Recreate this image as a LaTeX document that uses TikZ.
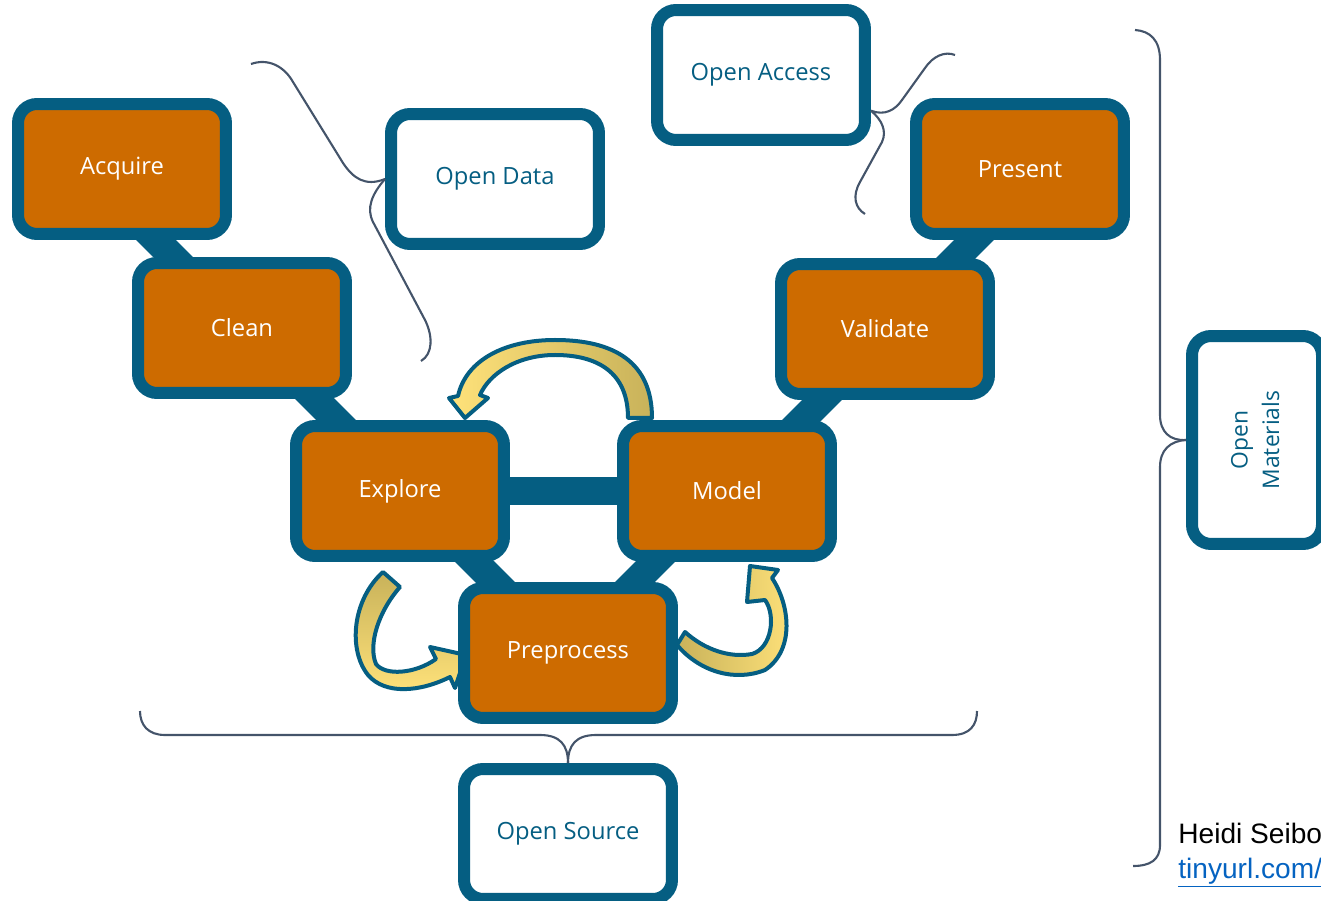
\documentclass[tikz,border=0pt]{standalone}
\usepackage{fontspec}
\setmainfont{Open Sans}
\newfontfamily\arialfont{Liberation Sans}
\usetikzlibrary{positioning,calc}
\definecolor{cycleblue}{RGB}{5,94,130}
\definecolor{cycleorange}{RGB}{205,107,0}
\definecolor{bracegray}{RGB}{68,84,106}
\definecolor{golddark}{RGB}{200,178,90}
\definecolor{goldlight}{RGB}{255,226,122}
\definecolor{urlblue}{RGB}{5,99,193}
\pgfdeclarelayer{back}
\pgfsetlayers{back,main}

\begin{document}
\begin{tikzpicture}[x=0.02cm, y=-0.02cm,
    stage/.style={draw=cycleblue, line width=0.24cm, rounded corners=0.38cm,
                  fill=cycleorange, text=white, minimum width=4.16cm, minimum height=2.6cm,
                  font=\fontsize{13.5}{16}\selectfont},
    open/.style={stage, fill=white, text=cycleblue},
    link/.style={cycleblue, line width=0.56cm},
    brace/.style={bracegray, line width=1.2pt},
    turn/.style={draw=cycleblue, line width=0.08cm, line join=round}]
      \useasboundingbox (0,0) rectangle (1321,901);
      % the cycle
      \node[stage] (acquire)    at (122,169)  {Acquire};
      \node[stage] (clean)      at (242,328)  {Clean};
      \node[stage] (explore)    at (400,491)  {Explore};
      \node[stage] (preprocess) at (568,653)  {Preprocess};
      \node[stage] (model)      at (727,491)  {Model};
      \node[stage] (validate)   at (885,329)  {Validate};
      \node[stage] (present)    at (1020,169) {Present};
      % the open boxes
      \node[open] (opendata)   at (495,179) {Open Data};
      \node[open] (openaccess) at (761,75)  {Open Access};
      \node[open] (opensource) at (568,834) {Open Source};
      \node[open, minimum width=2.6cm, minimum height=4.16cm,
            font=\fontsize{13}{18}\selectfont] (openmat) at (1257,440)
            {\rotatebox{90}{\begin{tabular}{@{}c@{}}Open\\Materials\end{tabular}}};
      \begin{pgfonlayer}{back}
      \draw[link] ($(acquire)+(13,50)$)    -- ($(clean)+(-47,-49)$);
      \draw[link] ($(clean)+(53,51)$)      -- ($(explore)+(-45,-52)$);
      \draw[link] ($(explore)+(55,51)$)    -- ($(preprocess)+(-53,-51)$);
      \draw[link] ($(model)+(-52,51)$)     -- ($(preprocess)+(47,-51)$);
      \draw[link] ($(model)+(55,-51)$)     -- ($(validate)+(-43,51)$);
      \draw[link] ($(validate)+(50,-50)$)  -- ($(present)+(-25,50)$);
      \draw[link] (explore) -- (model);
      % loop arrows
      \draw[turn, left color=goldlight, right color=golddark]
            (652,418) -- (628,418) .. controls (628,372) and (597,355) .. (555,355)
            .. controls (517,355) and (489,374) .. (480,395) -- (488,398) -- (465,418)
            -- (449,398) -- (458,396) .. controls (466,360) and (505,340) .. (555,340)
            .. controls (614,340) and (652,362) .. (652,418) -- cycle;
      \draw[turn, top color=golddark, bottom color=goldlight]
            (383,572) -- (400,587) .. controls (378,612) and (368,645) .. (376,664)
            .. controls (385,676) and (415,674) .. (436,659) -- (430,647) -- (466,655)
            -- (455,688) -- (450,677) .. controls (420,692) and (385,695) .. (368,675)
            .. controls (348,650) and (352,600) .. (383,572) -- cycle;
      \draw[turn, left color=golddark, right color=goldlight]
            (685,632) .. controls (705,650) and (730,658) .. (752,654)
            .. controls (772,648) and (776,615) .. (765,600) -- (747,602) -- (750,566)
            -- (778,570) -- (772,578) .. controls (790,605) and (795,650) .. (765,670)
            .. controls (735,682) and (700,672) .. (677,645) -- cycle;
      \end{pgfonlayer}
      % braces
      \draw[brace] (opendata.west) .. controls (365,187) and (353,178) .. (343,163)
            -- (293,82) .. controls (284,66) and (268,58) .. (251,64);
      \draw[brace] (opendata.west) .. controls (372,194) and (366,208) .. (373,222)
            -- (425,320) .. controls (433,336) and (433,354) .. (421,361);
      \draw[brace] (openaccess.-18) .. controls (885,116) and (895,110) .. (902,100)
            -- (925,68) .. controls (933,56) and (945,51) .. (955,55);
      \draw[brace] (openaccess.-18) .. controls (882,120) and (887,131) .. (882,142)
            -- (860,182) .. controls (852,196) and (855,208) .. (865,214);
      \draw[brace] (openmat.west) .. controls (1170,441) and (1160,432) .. (1160,415)
            -- (1160,60) .. controls (1160,40) and (1150,31) .. (1135,30);
      \draw[brace] (openmat.west) .. controls (1170,441) and (1160,450) .. (1160,467)
            -- (1160,845) .. controls (1160,860) and (1150,866) .. (1133,866);
      \draw[brace] (opensource.north) .. controls (568,745) and (560,735) .. (540,735)
            -- (165,735) .. controls (148,735) and (140,725) .. (140,711);
      \draw[brace] (opensource.north) .. controls (568,745) and (576,735) .. (596,735)
            -- (952,735) .. controls (970,735) and (977,725) .. (977,711);
      % credit
      \node[anchor=base west, inner sep=0pt, font=\arialfont\fontsize{16}{19}\selectfont]
            (author) at (1178,843) {Heidi Seibo};
      \node[anchor=base west, inner sep=0pt, text=urlblue,
            font=\arialfont\fontsize{16}{19}\selectfont]
            (url) at (1178,878) {\underline{tinyurl.com/}};
\end{tikzpicture}
\end{document}
